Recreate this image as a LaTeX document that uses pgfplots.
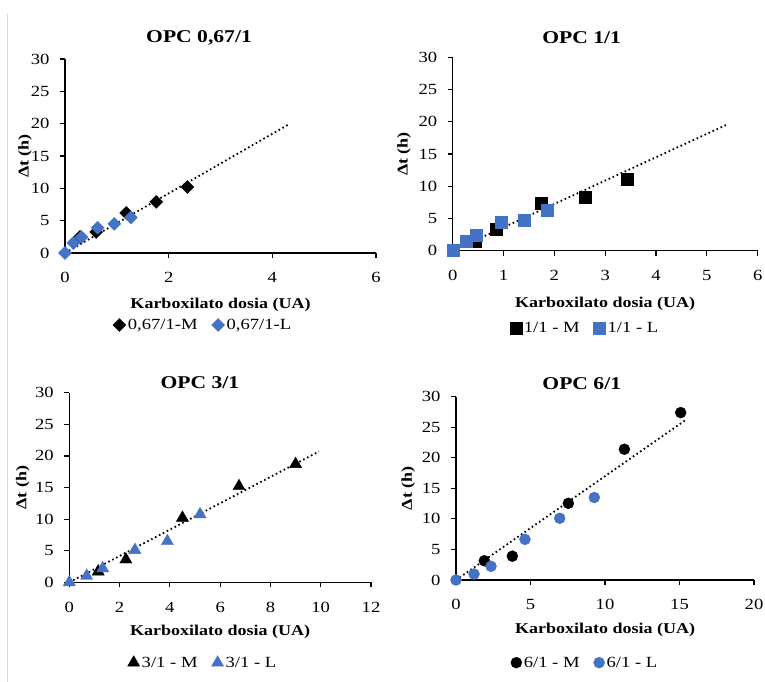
\documentclass[border=0pt]{standalone}
\usepackage{fontspec}
\setmainfont{Liberation Serif}[FakeStretch=1.2]
\usepackage{pgfplots}
\pgfplotsset{compat=1.18}
\definecolor{xlblue}{HTML}{4472C4}
\pgfplotsset{
  panel/.style={
    scale only axis,
    anchor=south west,
    axis lines=left,
    axis line style={-, line width=1.5pt},
    tick style={black, line width=1.2pt},
    tick align=outside,
    major tick length=5pt,
    xmin=0, ymin=0, ymax=30,
    ytick={0,5,...,30},
    clip=false,
    /pgf/number format/assume math mode=true,
    ticklabel style={font=\fontsize{15.5}{15.5}\selectfont},
    xticklabel style={yshift=-11pt},
    yticklabel style={xshift=-7pt},
    label style={font=\bfseries\fontsize{15}{15}\selectfont},
    title style={font=\bfseries\fontsize{18}{18}\selectfont, anchor=center},
    xlabel={Karboxilato dosia (UA)},
    ylabel={Δt (h)},
    legend columns=2,
    legend style={draw=none, fill=none, font=\fontsize{15.5}{15.5}\selectfont, anchor=center,
      /tikz/every even column/.append style={column sep=12pt}},
    legend cell align=left,
  },
  trend/.style={black, line width=1.8pt, dash pattern=on 1.6pt off 2.8pt, no marks},
}
\begin{document}
\begin{tikzpicture}
\useasboundingbox (0pt,0pt) rectangle (765pt,682pt);
\draw[gray!30, line width=0.8pt] (7.5pt,0pt) -- (7.5pt,668pt);

% Panel 1
\begin{axis}[panel, at={(65pt,429pt)}, width=311pt, height=194pt,
  xmax=6, xtick={0,2,4,6},
  title={OPC 0,67/1}, title style={at={(0.431,1)}, yshift=15.5pt},
  xlabel style={at={(axis description cs:0.5,0)}, anchor=center, yshift=-51.5pt},
  ylabel style={at={(axis description cs:0,0.5)}, anchor=center, yshift=40pt},
  legend style={at={(0.444,-0.371)}}]
\addplot[only marks, mark=square*, mark size=4.6pt, mark options={rotate=45}, black] coordinates {(0.29,2.5) (0.6,3.25) (1.18,6.2) (1.76,7.9) (2.36,10.2)};
\addlegendentry{0,67/1-M}
\addplot[only marks, mark=square*, mark size=4.6pt, mark options={rotate=45}, xlblue, fill=xlblue] coordinates {(0,0) (0.16,1.55) (0.32,2.45) (0.63,3.9) (0.95,4.5) (1.27,5.5)};
\addlegendentry{0,67/1-L}
\addplot[trend, forget plot] coordinates {(0,0) (4.34,20.0)};
\end{axis}

% Panel 2
\begin{axis}[panel, at={(452.7pt,431.3pt)}, width=305pt, height=193.4pt,
  xmax=6, xtick={0,1,...,6},
  title={OPC 1/1}, title style={at={(0.423,1)}, yshift=13.5pt},
  xlabel style={at={(axis description cs:0.5,0)}, anchor=center, yshift=-53.5pt},
  ylabel style={at={(axis description cs:0,0.5)}, anchor=center, yshift=48.7pt},
  legend style={at={(0.434,-0.40)}}]
\addplot[only marks, mark=square*, mark size=6pt, black] coordinates {(0.44,1.55) (0.85,3.3) (1.74,7.35) (2.6,8.3) (3.44,11.1)};
\addlegendentry{1/1 - M}
\addplot[only marks, mark=square*, mark size=6pt, xlblue, fill=xlblue] coordinates {(0,0) (0.26,1.55) (0.47,2.4) (0.95,4.45) (1.4,4.7) (1.86,6.3)};
\addlegendentry{1/1 - L}
\addplot[trend, forget plot] coordinates {(0,0) (5.38,19.5)};
\end{axis}

% Panel 3
\begin{axis}[panel, at={(69.3pt,99.7pt)}, width=301.7pt, height=189.6pt,
  xmax=12, xtick={0,2,...,12},
  title={OPC 3/1}, title style={at={(0.433,1)}, yshift=4.5pt},
  xlabel style={at={(axis description cs:0.5,0)}, anchor=center, yshift=-50pt},
  ylabel style={at={(axis description cs:0,0.5)}, anchor=center, yshift=46.6pt},
  legend style={at={(0.443,-0.424)}}]
\addplot[only marks, mark=triangle*, mark size=7pt, black] coordinates {(1.15,1.7) (2.25,3.6) (4.5,10.2) (6.75,15.2) (9.0,18.7)};
\addlegendentry{3/1 - M}
\addplot[only marks, mark=triangle*, mark size=7pt, xlblue, fill=xlblue] coordinates {(0,0) (0.69,1.0) (1.33,2.2) (2.61,5.1) (3.9,6.5) (5.2,10.75)};
\addlegendentry{3/1 - L}
\addplot[trend, forget plot] coordinates {(0,0) (9.93,20.7)};
\end{axis}

% Panel 4
\begin{axis}[panel, at={(456pt,102pt)}, width=298pt, height=183.3pt,
  xmax=20, xtick={0,5,...,20},
  title={OPC 6/1}, title style={at={(0.422,1)}, yshift=7.5pt},
  xlabel style={at={(axis description cs:0.5,0)}, anchor=center, yshift=-50pt},
  ylabel style={at={(axis description cs:0,0.5)}, anchor=center, yshift=47.7pt},
  legend style={at={(0.433,-0.451)}}]
\addplot[only marks, mark=*, mark size=5.5pt, black] coordinates {(1.9,3.15) (3.78,3.9) (7.54,12.55) (11.3,21.4) (15.08,27.4)};
\addlegendentry{6/1 - M}
\addplot[only marks, mark=*, mark size=5.5pt, xlblue, fill=xlblue] coordinates {(0,0) (1.21,0.98) (2.35,2.24) (4.63,6.65) (6.96,10.1) (9.28,13.5)};
\addlegendentry{6/1 - L}
\addplot[trend, forget plot] coordinates {(0,0) (15.48,26.3)};
\end{axis}
\end{tikzpicture}
\end{document}
